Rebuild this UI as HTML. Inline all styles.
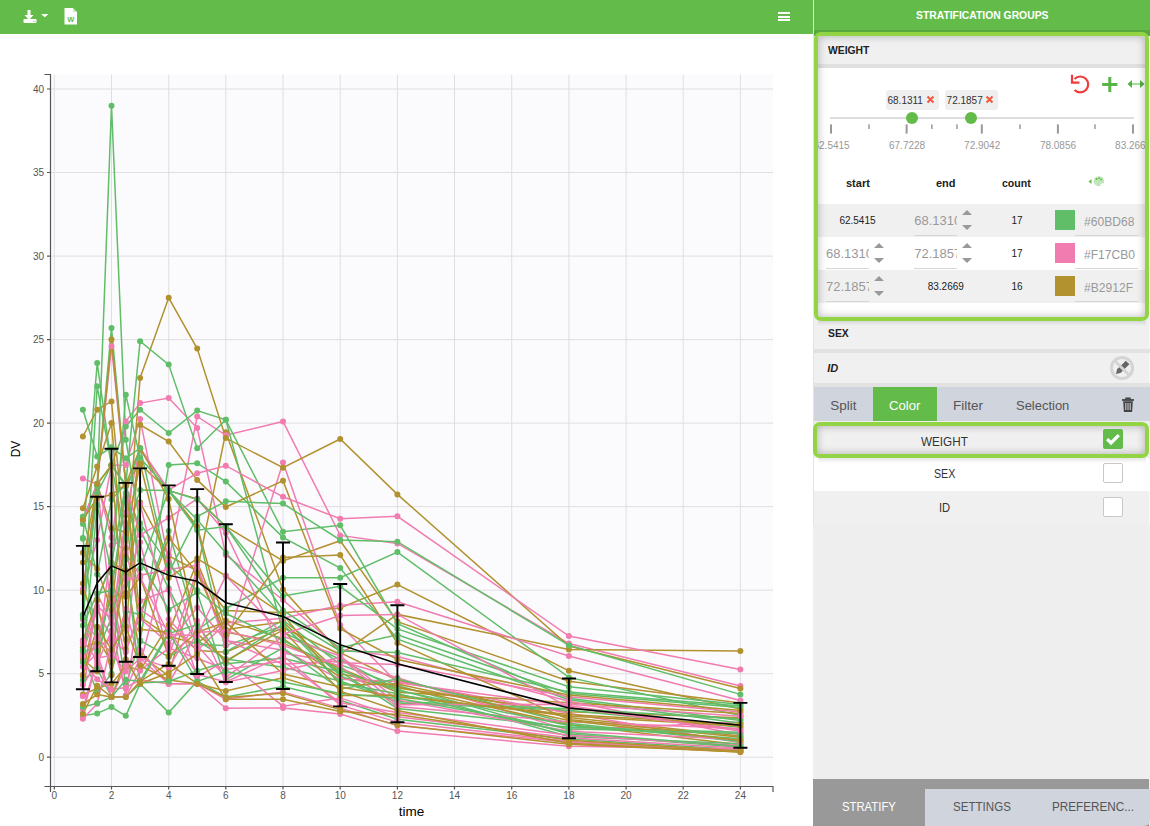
<!DOCTYPE html>
<html><head><meta charset="utf-8">
<style>
*{box-sizing:border-box;margin:0;padding:0}
html,body{width:1150px;height:826px;overflow:hidden;background:#fff;font-family:"Liberation Sans",sans-serif;position:relative}
.abs{position:absolute}
#lhead{left:0;top:0;width:813px;height:34px;background:#63bc49}
#vdiv{left:813px;top:0;width:1px;height:525px;background:#e2e2e8}
#rpanel{left:813px;top:0;width:337px;height:826px;background:#eeeeee}
#rhead{left:814px;top:0;width:336px;height:36px;background:linear-gradient(#63bc49 0,#63bc49 29.6px,#57a93f 30.4px,#57a93f 36px)}
.t{position:absolute;white-space:nowrap;line-height:1;display:inline-block}
.b{font-weight:bold}
.hl{position:absolute;border:4px solid #92d444;border-radius:7px;overflow:hidden}
.row{position:absolute;left:814px;width:336px}
.cb{position:absolute;width:20px;height:20px;border:1.5px solid #c8c8c8;border-radius:2px;background:#fff}
.spin{position:absolute;width:12px;height:22px}
.inp{position:absolute;height:27px;border-bottom:1px solid #d6d6d6;overflow:hidden;color:#999;font-size:13px}
</style></head><body>
<div id="lhead" class="abs">
 <svg class="abs" style="left:22px;top:8px" width="30" height="18" viewBox="0 0 30 18">
  <path d="M5.5 2h3v5h3l-4.5 5l-4.5 -5h3z" fill="#fff"/>
  <rect x="1.5" y="11" width="13" height="4" rx="0.8" fill="#fff"/>
  <rect x="11" y="12.8" width="1" height="0.8" fill="#63bc49"/><rect x="12.6" y="12.8" width="1" height="0.8" fill="#63bc49"/>
  <path d="M19 6h7.5l-3.75 3.2z" fill="#fff"/>
 </svg>
 <svg class="abs" style="left:64px;top:7px" width="14" height="18" viewBox="0 0 14 18">
  <path d="M0.5 1h8.5l4 4v12.5h-12.5z" fill="#fff"/>
  <path d="M9 1v4h4" fill="#63bc49" opacity=".35"/>
  <text x="6.8" y="15" text-anchor="middle" font-size="7.5" font-family="Liberation Sans,sans-serif" fill="#63bc49" font-weight="bold">W</text>
 </svg>
 <div class="abs" style="left:778px;top:12px;width:12px;height:2px;background:#fff"></div>
 <div class="abs" style="left:778px;top:15.7px;width:12px;height:2px;background:#fff"></div>
 <div class="abs" style="left:778px;top:19.4px;width:12px;height:2px;background:#fff"></div>
</div>
<svg width="813" height="792" viewBox="0 34 813 792" style="position:absolute;left:0;top:34px">
<rect x="51" y="74.5" width="722" height="712" fill="#fbfbfd"/>
<path d="M54.3 74.5V786 M111.5 74.5V786 M168.7 74.5V786 M225.8 74.5V786 M283.0 74.5V786 M340.2 74.5V786 M397.4 74.5V786 M454.5 74.5V786 M511.7 74.5V786 M568.9 74.5V786 M626.1 74.5V786 M683.2 74.5V786 M740.4 74.5V786 M51 757.2H773 M51 673.7H773 M51 590.2H773 M51 506.6H773 M51 423.1H773 M51 339.6H773 M51 256.1H773 M51 172.5H773 M51 89.0H773" stroke="#dfdfe1" stroke-width="1" fill="none"/>
<polyline points="82.9,647.4 97.2,642.4 111.5,596.3 125.8,592.7 140.1,502.4 168.7,555.9 197.2,570.8 225.8,432.3 283.0,589.6 340.2,652.6 397.4,680.2 568.9,717.6 740.4,736.0" fill="none" stroke="#B2912F" stroke-width="1.5"/>
<polyline points="82.9,519.8 97.2,484.1 111.5,528.2 125.8,532.2 140.1,464.4 168.7,490.6 197.2,498.8 225.8,526.5 283.0,560.9 340.2,540.7 397.4,621.6 568.9,681.2 740.4,702.9" fill="none" stroke="#B2912F" stroke-width="1.5"/>
<polyline points="82.9,590.8 97.2,540.0 111.5,465.2 125.8,464.9 140.1,418.9 168.7,561.4 197.2,416.4 225.8,435.3 283.0,421.4 340.2,535.4 397.4,543.4 568.9,643.6 740.4,685.9" fill="none" stroke="#F17CB0" stroke-width="1.5"/>
<polyline points="82.9,694.6 97.2,688.2 111.5,683.9 125.8,666.2 140.1,670.3 168.7,624.7 197.2,650.6 225.8,652.3 283.0,627.9 340.2,654.3 397.4,614.4 568.9,649.5 740.4,651.1" fill="none" stroke="#B2912F" stroke-width="1.5"/>
<polyline points="82.9,524.0 97.2,484.1 111.5,327.9 125.8,484.4 140.1,568.4 168.7,490.6 197.2,527.7 225.8,651.8 283.0,620.2 340.2,664.7 397.4,685.4 568.9,734.0 740.4,747.3" fill="none" stroke="#60BD68" stroke-width="1.5"/>
<polyline points="82.9,674.8 97.2,600.3 111.5,562.8 125.8,570.8 140.1,655.1 168.7,675.8 197.2,573.9 225.8,610.5 283.0,612.7 340.2,607.9 397.4,584.6 568.9,670.8 740.4,708.9" fill="none" stroke="#B2912F" stroke-width="1.5"/>
<polyline points="82.9,654.3 97.2,692.6 111.5,673.5 125.8,611.2 140.1,614.5 168.7,531.0 197.2,630.6 225.8,608.5 283.0,577.8 340.2,577.8 397.4,552.1 568.9,677.4 740.4,715.4" fill="none" stroke="#60BD68" stroke-width="1.5"/>
<polyline points="82.9,659.3 97.2,671.5 111.5,572.3 125.8,649.1 140.1,616.9 168.7,636.6 197.2,643.4 225.8,620.4 283.0,638.6 340.2,677.2 397.4,688.0 568.9,711.8 740.4,717.8" fill="none" stroke="#B2912F" stroke-width="1.5"/>
<polyline points="82.9,519.8 97.2,484.1 111.5,465.2 125.8,426.4 140.1,409.7 168.7,433.1 197.2,410.6 225.8,419.8 283.0,531.7 340.2,525.3 397.4,623.6 568.9,698.2 740.4,720.6" fill="none" stroke="#60BD68" stroke-width="1.5"/>
<polyline points="82.9,538.7 97.2,363.0 111.5,465.2 125.8,486.7 140.1,529.7 168.7,588.6 197.2,644.4 225.8,645.6 283.0,625.9 340.2,675.3 397.4,703.1 568.9,710.3 740.4,727.3" fill="none" stroke="#60BD68" stroke-width="1.5"/>
<polyline points="82.9,652.1 97.2,610.5 111.5,637.4 125.8,577.8 140.1,542.2 168.7,657.0 197.2,569.4 225.8,640.4 283.0,650.3 340.2,679.2 397.4,681.4 568.9,713.3 740.4,742.7" fill="none" stroke="#F17CB0" stroke-width="1.5"/>
<polyline points="82.9,478.6 97.2,484.1 111.5,613.7 125.8,547.4 140.1,618.5 168.7,643.4 197.2,607.4 225.8,640.3 283.0,664.2 340.2,661.1 397.4,677.7 568.9,730.1 740.4,722.0" fill="none" stroke="#F17CB0" stroke-width="1.5"/>
<polyline points="82.9,650.3 97.2,599.2 111.5,563.6 125.8,484.4 140.1,641.4 168.7,464.9 197.2,463.2 225.8,481.6 283.0,537.4 340.2,568.1 397.4,639.1 568.9,699.7 740.4,723.3" fill="none" stroke="#60BD68" stroke-width="1.5"/>
<polyline points="82.9,640.6 97.2,600.3 111.5,675.2 125.8,515.3 140.1,629.2 168.7,632.4 197.2,561.9 225.8,632.1 283.0,643.1 340.2,668.2 397.4,692.2 568.9,702.7 740.4,713.4" fill="none" stroke="#B2912F" stroke-width="1.5"/>
<polyline points="82.9,436.5 97.2,409.7 111.5,401.4 125.8,548.9 140.1,449.3 168.7,490.6 197.2,526.3 225.8,629.4 283.0,622.1 340.2,673.5 397.4,686.7 568.9,724.6 740.4,744.7" fill="none" stroke="#B2912F" stroke-width="1.5"/>
<polyline points="82.9,589.0 97.2,484.1 111.5,537.5 125.8,553.1 140.1,575.3 168.7,569.4 197.2,565.3 225.8,645.1 283.0,462.5 340.2,625.2 397.4,682.7 568.9,705.7 740.4,729.8" fill="none" stroke="#F17CB0" stroke-width="1.5"/>
<polyline points="82.9,640.4 97.2,660.3 111.5,545.4 125.8,421.4 140.1,403.1 168.7,398.0 197.2,428.1 225.8,554.9 283.0,600.0 340.2,649.5 397.4,656.5 568.9,701.2 740.4,734.8" fill="none" stroke="#F17CB0" stroke-width="1.5"/>
<polyline points="82.9,583.6 97.2,637.9 111.5,662.3 125.8,556.7 140.1,378.0 168.7,297.8 197.2,348.6 225.8,438.1 283.0,467.7 340.2,439.0 397.4,494.4 568.9,646.1 740.4,688.5" fill="none" stroke="#B2912F" stroke-width="1.5"/>
<polyline points="82.9,619.4 97.2,638.4 111.5,593.0 125.8,661.3 140.1,504.0 168.7,619.2 197.2,650.5 225.8,623.1 283.0,618.2 340.2,605.2 397.4,601.7 568.9,656.0 740.4,700.4" fill="none" stroke="#F17CB0" stroke-width="1.5"/>
<polyline points="82.9,519.8 97.2,484.1 111.5,346.3 125.8,484.4 140.1,535.2 168.7,517.8 197.2,498.8 225.8,533.0 283.0,653.0 340.2,662.8 397.4,664.5 568.9,696.7 740.4,711.9" fill="none" stroke="#F17CB0" stroke-width="1.5"/>
<polyline points="82.9,614.4 97.2,492.9 111.5,465.2 125.8,484.4 140.1,341.2 168.7,364.6 197.2,448.2 225.8,419.8 283.0,632.1 340.2,659.5 397.4,689.4 568.9,736.5 740.4,743.7" fill="none" stroke="#60BD68" stroke-width="1.5"/>
<polyline points="82.9,651.5 97.2,647.6 111.5,592.7 125.8,685.4 140.1,640.4 168.7,657.0 197.2,640.3 225.8,659.0 283.0,667.2 340.2,681.0 397.4,701.4 568.9,708.8 740.4,719.1" fill="none" stroke="#60BD68" stroke-width="1.5"/>
<polyline points="82.9,680.2 97.2,668.7 111.5,697.1 125.8,697.1 140.1,683.7 168.7,712.6 197.2,681.2 225.8,697.1 283.0,686.5 340.2,700.2 397.4,719.3 568.9,739.0 740.4,749.7" fill="none" stroke="#60BD68" stroke-width="1.5"/>
<polyline points="82.9,696.2 97.2,594.0 111.5,623.4 125.8,695.2 140.1,601.0 168.7,589.8 197.2,676.8 225.8,660.5 283.0,706.2 340.2,697.9 397.4,716.8 568.9,737.7 740.4,748.2" fill="none" stroke="#F17CB0" stroke-width="1.5"/>
<polyline points="82.9,516.6 97.2,574.3 111.5,499.6 125.8,484.4 140.1,560.7 168.7,609.7 197.2,592.3 225.8,679.7 283.0,647.9 340.2,689.0 397.4,678.9 568.9,723.3 740.4,741.5" fill="none" stroke="#60BD68" stroke-width="1.5"/>
<polyline points="82.9,715.8 97.2,713.4 111.5,707.1 125.8,715.8 140.1,683.7 168.7,633.6 197.2,624.6 225.8,663.8 283.0,658.3 340.2,671.7 397.4,708.4 568.9,727.3 740.4,732.3" fill="none" stroke="#60BD68" stroke-width="1.5"/>
<polyline points="82.9,617.9 97.2,386.3 111.5,465.2 125.8,538.4 140.1,489.9 168.7,490.6 197.2,499.6 225.8,526.5 283.0,610.4 340.2,647.8 397.4,634.8 568.9,693.6 740.4,707.4" fill="none" stroke="#60BD68" stroke-width="1.5"/>
<polyline points="82.9,709.3 97.2,657.8 111.5,655.5 125.8,608.9 140.1,664.5 168.7,554.4 197.2,645.4 225.8,677.2 283.0,636.4 340.2,656.0 397.4,699.9 568.9,731.3 740.4,739.5" fill="none" stroke="#F17CB0" stroke-width="1.5"/>
<polyline points="82.9,508.3 97.2,466.5 111.5,423.1 125.8,596.7 140.1,577.3 168.7,656.1 197.2,632.2 225.8,622.1 283.0,674.0 340.2,687.0 397.4,696.7 568.9,714.6 740.4,724.6" fill="none" stroke="#B2912F" stroke-width="1.5"/>
<polyline points="82.9,562.4 97.2,484.1 111.5,465.2 125.8,639.3 140.1,424.8 168.7,441.5 197.2,479.9 225.8,507.0 283.0,480.7 340.2,628.6 397.4,659.5 568.9,695.1 740.4,710.4" fill="none" stroke="#B2912F" stroke-width="1.5"/>
<polyline points="82.9,666.8 97.2,653.5 111.5,697.1 125.8,696.6 140.1,670.5 168.7,648.1 197.2,658.3 225.8,669.5 283.0,661.1 340.2,702.7 397.4,712.4 568.9,735.3 740.4,745.5" fill="none" stroke="#F17CB0" stroke-width="1.5"/>
<polyline points="82.9,718.8 97.2,703.7 111.5,641.8 125.8,688.7 140.1,658.3 168.7,683.7 197.2,632.2 225.8,630.9 283.0,645.4 340.2,666.3 397.4,706.6 568.9,721.8 740.4,728.6" fill="none" stroke="#F17CB0" stroke-width="1.5"/>
<polyline points="82.9,713.8 97.2,659.3 111.5,697.1 125.8,665.8 140.1,650.3 168.7,683.7 197.2,683.7 225.8,699.2 283.0,691.9 340.2,708.1 397.4,725.6 568.9,742.3 740.4,750.5" fill="none" stroke="#F17CB0" stroke-width="1.5"/>
<polyline points="82.9,409.7 97.2,456.5 111.5,447.3 125.8,458.2 140.1,448.2 168.7,490.6 197.2,530.3 225.8,526.5 283.0,596.0 340.2,586.3 397.4,628.9 568.9,686.7 740.4,704.4" fill="none" stroke="#60BD68" stroke-width="1.5"/>
<polyline points="82.9,684.7 97.2,663.7 111.5,630.4 125.8,512.8 140.1,448.2 168.7,489.9 197.2,473.2 225.8,465.7 283.0,496.8 340.2,518.8 397.4,516.3 568.9,636.1 740.4,669.5" fill="none" stroke="#F17CB0" stroke-width="1.5"/>
<polyline points="82.9,662.0 97.2,679.2 111.5,689.5 125.8,687.5 140.1,680.0 168.7,683.7 197.2,683.7 225.8,708.3 283.0,707.9 340.2,714.1 397.4,731.1 568.9,746.3 740.4,749.0" fill="none" stroke="#F17CB0" stroke-width="1.5"/>
<polyline points="82.9,552.7 97.2,569.1 111.5,609.9 125.8,484.4 140.1,616.5 168.7,537.9 197.2,573.1 225.8,635.1 283.0,557.6 340.2,555.1 397.4,642.9 568.9,719.6 740.4,737.2" fill="none" stroke="#B2912F" stroke-width="1.5"/>
<polyline points="82.9,656.1 97.2,647.4 111.5,638.4 125.8,652.1 140.1,609.4 168.7,629.2 197.2,674.3 225.8,682.0 283.0,655.6 340.2,705.2 397.4,722.1 568.9,741.3 740.4,751.7" fill="none" stroke="#F17CB0" stroke-width="1.5"/>
<polyline points="82.9,615.2 97.2,486.6 111.5,105.7 125.8,439.8 140.1,523.3 168.7,565.1 197.2,590.2 225.8,613.5 283.0,640.3 340.2,670.3 397.4,690.4 568.9,725.5 740.4,738.8" fill="none" stroke="#60BD68" stroke-width="1.5"/>
<polyline points="82.9,675.2 97.2,636.9 111.5,653.6 125.8,671.5 140.1,658.3 168.7,667.7 197.2,620.7 225.8,682.2 283.0,670.5 340.2,657.6 397.4,704.7 568.9,704.2 740.4,716.3" fill="none" stroke="#F17CB0" stroke-width="1.5"/>
<polyline points="82.9,592.5 97.2,484.1 111.5,339.6 125.8,484.4 140.1,463.2 168.7,577.8 197.2,558.6 225.8,575.8 283.0,614.5 340.2,685.0 397.4,684.0 568.9,720.4 740.4,740.5" fill="none" stroke="#B2912F" stroke-width="1.5"/>
<polyline points="82.9,675.7 97.2,626.7 111.5,649.6 125.8,626.6 140.1,665.7 168.7,679.9 197.2,683.7 225.8,690.9 283.0,677.7 340.2,695.6 397.4,695.2 568.9,716.1 740.4,726.0" fill="none" stroke="#B2912F" stroke-width="1.5"/>
<polyline points="82.9,538.0 97.2,651.1 111.5,618.0 125.8,559.6 140.1,683.0 168.7,681.4 197.2,670.7 225.8,662.0 283.0,624.1 340.2,683.0 397.4,693.7 568.9,732.6 740.4,746.5" fill="none" stroke="#60BD68" stroke-width="1.5"/>
<polyline points="82.9,707.1 97.2,703.2 111.5,697.1 125.8,679.7 140.1,681.2 168.7,631.9 197.2,681.4 225.8,671.5 283.0,681.9 340.2,693.4 397.4,698.2 568.9,728.8 740.4,733.6" fill="none" stroke="#60BD68" stroke-width="1.5"/>
<polyline points="82.9,519.8 97.2,497.9 111.5,494.8 125.8,484.4 140.1,448.2 168.7,498.9 197.2,633.4 225.8,660.6 283.0,630.1 340.2,691.2 397.4,710.4 568.9,743.3 740.4,752.0" fill="none" stroke="#B2912F" stroke-width="1.5"/>
<polyline points="82.9,643.8 97.2,606.0 111.5,618.9 125.8,579.8 140.1,577.1 168.7,634.3 197.2,635.8 225.8,575.8 283.0,634.3 340.2,615.5 397.4,614.4 568.9,707.3 740.4,731.1" fill="none" stroke="#F17CB0" stroke-width="1.5"/>
<polyline points="82.9,662.0 97.2,505.3 111.5,573.1 125.8,394.7 140.1,457.8 168.7,490.6 197.2,519.8 225.8,552.7 283.0,616.4 340.2,651.0 397.4,652.5 568.9,692.1 740.4,705.9" fill="none" stroke="#60BD68" stroke-width="1.5"/>
<polyline points="82.9,704.1 97.2,694.6 111.5,697.1 125.8,659.3 140.1,683.7 168.7,672.8 197.2,654.0 225.8,699.2 283.0,699.2 340.2,711.4 397.4,714.4 568.9,740.2 740.4,751.0" fill="none" stroke="#B2912F" stroke-width="1.5"/>
<polyline points="82.9,713.8 97.2,685.7 111.5,697.1 125.8,697.1 140.1,681.4 168.7,663.7 197.2,683.7 225.8,697.4 283.0,693.2 340.2,709.6 397.4,725.1 568.9,744.3 740.4,752.0" fill="none" stroke="#B2912F" stroke-width="1.5"/>
<polyline points="82.9,625.6 97.2,593.5 111.5,590.3 125.8,492.9 140.1,448.2 168.7,572.8 197.2,516.6 225.8,501.3 283.0,503.5 340.2,540.0 397.4,541.7 568.9,645.3 740.4,694.4" fill="none" stroke="#60BD68" stroke-width="1.5"/>
<g fill="#B2912F"><circle cx="82.9" cy="647.4" r="3"/><circle cx="97.2" cy="642.4" r="3"/><circle cx="111.5" cy="596.3" r="3"/><circle cx="125.8" cy="592.7" r="3"/><circle cx="140.1" cy="502.4" r="3"/><circle cx="168.7" cy="555.9" r="3"/><circle cx="197.2" cy="570.8" r="3"/><circle cx="225.8" cy="432.3" r="3"/><circle cx="283.0" cy="589.6" r="3"/><circle cx="340.2" cy="652.6" r="3"/><circle cx="397.4" cy="680.2" r="3"/><circle cx="568.9" cy="717.6" r="3"/><circle cx="740.4" cy="736.0" r="3"/></g>
<g fill="#B2912F"><circle cx="82.9" cy="519.8" r="3"/><circle cx="97.2" cy="484.1" r="3"/><circle cx="111.5" cy="528.2" r="3"/><circle cx="125.8" cy="532.2" r="3"/><circle cx="140.1" cy="464.4" r="3"/><circle cx="168.7" cy="490.6" r="3"/><circle cx="197.2" cy="498.8" r="3"/><circle cx="225.8" cy="526.5" r="3"/><circle cx="283.0" cy="560.9" r="3"/><circle cx="340.2" cy="540.7" r="3"/><circle cx="397.4" cy="621.6" r="3"/><circle cx="568.9" cy="681.2" r="3"/><circle cx="740.4" cy="702.9" r="3"/></g>
<g fill="#F17CB0"><circle cx="82.9" cy="590.8" r="3"/><circle cx="97.2" cy="540.0" r="3"/><circle cx="111.5" cy="465.2" r="3"/><circle cx="125.8" cy="464.9" r="3"/><circle cx="140.1" cy="418.9" r="3"/><circle cx="168.7" cy="561.4" r="3"/><circle cx="197.2" cy="416.4" r="3"/><circle cx="225.8" cy="435.3" r="3"/><circle cx="283.0" cy="421.4" r="3"/><circle cx="340.2" cy="535.4" r="3"/><circle cx="397.4" cy="543.4" r="3"/><circle cx="568.9" cy="643.6" r="3"/><circle cx="740.4" cy="685.9" r="3"/></g>
<g fill="#B2912F"><circle cx="82.9" cy="694.6" r="3"/><circle cx="97.2" cy="688.2" r="3"/><circle cx="111.5" cy="683.9" r="3"/><circle cx="125.8" cy="666.2" r="3"/><circle cx="140.1" cy="670.3" r="3"/><circle cx="168.7" cy="624.7" r="3"/><circle cx="197.2" cy="650.6" r="3"/><circle cx="225.8" cy="652.3" r="3"/><circle cx="283.0" cy="627.9" r="3"/><circle cx="340.2" cy="654.3" r="3"/><circle cx="397.4" cy="614.4" r="3"/><circle cx="568.9" cy="649.5" r="3"/><circle cx="740.4" cy="651.1" r="3"/></g>
<g fill="#60BD68"><circle cx="82.9" cy="524.0" r="3"/><circle cx="97.2" cy="484.1" r="3"/><circle cx="111.5" cy="327.9" r="3"/><circle cx="125.8" cy="484.4" r="3"/><circle cx="140.1" cy="568.4" r="3"/><circle cx="168.7" cy="490.6" r="3"/><circle cx="197.2" cy="527.7" r="3"/><circle cx="225.8" cy="651.8" r="3"/><circle cx="283.0" cy="620.2" r="3"/><circle cx="340.2" cy="664.7" r="3"/><circle cx="397.4" cy="685.4" r="3"/><circle cx="568.9" cy="734.0" r="3"/><circle cx="740.4" cy="747.3" r="3"/></g>
<g fill="#B2912F"><circle cx="82.9" cy="674.8" r="3"/><circle cx="97.2" cy="600.3" r="3"/><circle cx="111.5" cy="562.8" r="3"/><circle cx="125.8" cy="570.8" r="3"/><circle cx="140.1" cy="655.1" r="3"/><circle cx="168.7" cy="675.8" r="3"/><circle cx="197.2" cy="573.9" r="3"/><circle cx="225.8" cy="610.5" r="3"/><circle cx="283.0" cy="612.7" r="3"/><circle cx="340.2" cy="607.9" r="3"/><circle cx="397.4" cy="584.6" r="3"/><circle cx="568.9" cy="670.8" r="3"/><circle cx="740.4" cy="708.9" r="3"/></g>
<g fill="#60BD68"><circle cx="82.9" cy="654.3" r="3"/><circle cx="97.2" cy="692.6" r="3"/><circle cx="111.5" cy="673.5" r="3"/><circle cx="125.8" cy="611.2" r="3"/><circle cx="140.1" cy="614.5" r="3"/><circle cx="168.7" cy="531.0" r="3"/><circle cx="197.2" cy="630.6" r="3"/><circle cx="225.8" cy="608.5" r="3"/><circle cx="283.0" cy="577.8" r="3"/><circle cx="340.2" cy="577.8" r="3"/><circle cx="397.4" cy="552.1" r="3"/><circle cx="568.9" cy="677.4" r="3"/><circle cx="740.4" cy="715.4" r="3"/></g>
<g fill="#B2912F"><circle cx="82.9" cy="659.3" r="3"/><circle cx="97.2" cy="671.5" r="3"/><circle cx="111.5" cy="572.3" r="3"/><circle cx="125.8" cy="649.1" r="3"/><circle cx="140.1" cy="616.9" r="3"/><circle cx="168.7" cy="636.6" r="3"/><circle cx="197.2" cy="643.4" r="3"/><circle cx="225.8" cy="620.4" r="3"/><circle cx="283.0" cy="638.6" r="3"/><circle cx="340.2" cy="677.2" r="3"/><circle cx="397.4" cy="688.0" r="3"/><circle cx="568.9" cy="711.8" r="3"/><circle cx="740.4" cy="717.8" r="3"/></g>
<g fill="#60BD68"><circle cx="82.9" cy="519.8" r="3"/><circle cx="97.2" cy="484.1" r="3"/><circle cx="111.5" cy="465.2" r="3"/><circle cx="125.8" cy="426.4" r="3"/><circle cx="140.1" cy="409.7" r="3"/><circle cx="168.7" cy="433.1" r="3"/><circle cx="197.2" cy="410.6" r="3"/><circle cx="225.8" cy="419.8" r="3"/><circle cx="283.0" cy="531.7" r="3"/><circle cx="340.2" cy="525.3" r="3"/><circle cx="397.4" cy="623.6" r="3"/><circle cx="568.9" cy="698.2" r="3"/><circle cx="740.4" cy="720.6" r="3"/></g>
<g fill="#60BD68"><circle cx="82.9" cy="538.7" r="3"/><circle cx="97.2" cy="363.0" r="3"/><circle cx="111.5" cy="465.2" r="3"/><circle cx="125.8" cy="486.7" r="3"/><circle cx="140.1" cy="529.7" r="3"/><circle cx="168.7" cy="588.6" r="3"/><circle cx="197.2" cy="644.4" r="3"/><circle cx="225.8" cy="645.6" r="3"/><circle cx="283.0" cy="625.9" r="3"/><circle cx="340.2" cy="675.3" r="3"/><circle cx="397.4" cy="703.1" r="3"/><circle cx="568.9" cy="710.3" r="3"/><circle cx="740.4" cy="727.3" r="3"/></g>
<g fill="#F17CB0"><circle cx="82.9" cy="652.1" r="3"/><circle cx="97.2" cy="610.5" r="3"/><circle cx="111.5" cy="637.4" r="3"/><circle cx="125.8" cy="577.8" r="3"/><circle cx="140.1" cy="542.2" r="3"/><circle cx="168.7" cy="657.0" r="3"/><circle cx="197.2" cy="569.4" r="3"/><circle cx="225.8" cy="640.4" r="3"/><circle cx="283.0" cy="650.3" r="3"/><circle cx="340.2" cy="679.2" r="3"/><circle cx="397.4" cy="681.4" r="3"/><circle cx="568.9" cy="713.3" r="3"/><circle cx="740.4" cy="742.7" r="3"/></g>
<g fill="#F17CB0"><circle cx="82.9" cy="478.6" r="3"/><circle cx="97.2" cy="484.1" r="3"/><circle cx="111.5" cy="613.7" r="3"/><circle cx="125.8" cy="547.4" r="3"/><circle cx="140.1" cy="618.5" r="3"/><circle cx="168.7" cy="643.4" r="3"/><circle cx="197.2" cy="607.4" r="3"/><circle cx="225.8" cy="640.3" r="3"/><circle cx="283.0" cy="664.2" r="3"/><circle cx="340.2" cy="661.1" r="3"/><circle cx="397.4" cy="677.7" r="3"/><circle cx="568.9" cy="730.1" r="3"/><circle cx="740.4" cy="722.0" r="3"/></g>
<g fill="#60BD68"><circle cx="82.9" cy="650.3" r="3"/><circle cx="97.2" cy="599.2" r="3"/><circle cx="111.5" cy="563.6" r="3"/><circle cx="125.8" cy="484.4" r="3"/><circle cx="140.1" cy="641.4" r="3"/><circle cx="168.7" cy="464.9" r="3"/><circle cx="197.2" cy="463.2" r="3"/><circle cx="225.8" cy="481.6" r="3"/><circle cx="283.0" cy="537.4" r="3"/><circle cx="340.2" cy="568.1" r="3"/><circle cx="397.4" cy="639.1" r="3"/><circle cx="568.9" cy="699.7" r="3"/><circle cx="740.4" cy="723.3" r="3"/></g>
<g fill="#B2912F"><circle cx="82.9" cy="640.6" r="3"/><circle cx="97.2" cy="600.3" r="3"/><circle cx="111.5" cy="675.2" r="3"/><circle cx="125.8" cy="515.3" r="3"/><circle cx="140.1" cy="629.2" r="3"/><circle cx="168.7" cy="632.4" r="3"/><circle cx="197.2" cy="561.9" r="3"/><circle cx="225.8" cy="632.1" r="3"/><circle cx="283.0" cy="643.1" r="3"/><circle cx="340.2" cy="668.2" r="3"/><circle cx="397.4" cy="692.2" r="3"/><circle cx="568.9" cy="702.7" r="3"/><circle cx="740.4" cy="713.4" r="3"/></g>
<g fill="#B2912F"><circle cx="82.9" cy="436.5" r="3"/><circle cx="97.2" cy="409.7" r="3"/><circle cx="111.5" cy="401.4" r="3"/><circle cx="125.8" cy="548.9" r="3"/><circle cx="140.1" cy="449.3" r="3"/><circle cx="168.7" cy="490.6" r="3"/><circle cx="197.2" cy="526.3" r="3"/><circle cx="225.8" cy="629.4" r="3"/><circle cx="283.0" cy="622.1" r="3"/><circle cx="340.2" cy="673.5" r="3"/><circle cx="397.4" cy="686.7" r="3"/><circle cx="568.9" cy="724.6" r="3"/><circle cx="740.4" cy="744.7" r="3"/></g>
<g fill="#F17CB0"><circle cx="82.9" cy="589.0" r="3"/><circle cx="97.2" cy="484.1" r="3"/><circle cx="111.5" cy="537.5" r="3"/><circle cx="125.8" cy="553.1" r="3"/><circle cx="140.1" cy="575.3" r="3"/><circle cx="168.7" cy="569.4" r="3"/><circle cx="197.2" cy="565.3" r="3"/><circle cx="225.8" cy="645.1" r="3"/><circle cx="283.0" cy="462.5" r="3"/><circle cx="340.2" cy="625.2" r="3"/><circle cx="397.4" cy="682.7" r="3"/><circle cx="568.9" cy="705.7" r="3"/><circle cx="740.4" cy="729.8" r="3"/></g>
<g fill="#F17CB0"><circle cx="82.9" cy="640.4" r="3"/><circle cx="97.2" cy="660.3" r="3"/><circle cx="111.5" cy="545.4" r="3"/><circle cx="125.8" cy="421.4" r="3"/><circle cx="140.1" cy="403.1" r="3"/><circle cx="168.7" cy="398.0" r="3"/><circle cx="197.2" cy="428.1" r="3"/><circle cx="225.8" cy="554.9" r="3"/><circle cx="283.0" cy="600.0" r="3"/><circle cx="340.2" cy="649.5" r="3"/><circle cx="397.4" cy="656.5" r="3"/><circle cx="568.9" cy="701.2" r="3"/><circle cx="740.4" cy="734.8" r="3"/></g>
<g fill="#B2912F"><circle cx="82.9" cy="583.6" r="3"/><circle cx="97.2" cy="637.9" r="3"/><circle cx="111.5" cy="662.3" r="3"/><circle cx="125.8" cy="556.7" r="3"/><circle cx="140.1" cy="378.0" r="3"/><circle cx="168.7" cy="297.8" r="3"/><circle cx="197.2" cy="348.6" r="3"/><circle cx="225.8" cy="438.1" r="3"/><circle cx="283.0" cy="467.7" r="3"/><circle cx="340.2" cy="439.0" r="3"/><circle cx="397.4" cy="494.4" r="3"/><circle cx="568.9" cy="646.1" r="3"/><circle cx="740.4" cy="688.5" r="3"/></g>
<g fill="#F17CB0"><circle cx="82.9" cy="619.4" r="3"/><circle cx="97.2" cy="638.4" r="3"/><circle cx="111.5" cy="593.0" r="3"/><circle cx="125.8" cy="661.3" r="3"/><circle cx="140.1" cy="504.0" r="3"/><circle cx="168.7" cy="619.2" r="3"/><circle cx="197.2" cy="650.5" r="3"/><circle cx="225.8" cy="623.1" r="3"/><circle cx="283.0" cy="618.2" r="3"/><circle cx="340.2" cy="605.2" r="3"/><circle cx="397.4" cy="601.7" r="3"/><circle cx="568.9" cy="656.0" r="3"/><circle cx="740.4" cy="700.4" r="3"/></g>
<g fill="#F17CB0"><circle cx="82.9" cy="519.8" r="3"/><circle cx="97.2" cy="484.1" r="3"/><circle cx="111.5" cy="346.3" r="3"/><circle cx="125.8" cy="484.4" r="3"/><circle cx="140.1" cy="535.2" r="3"/><circle cx="168.7" cy="517.8" r="3"/><circle cx="197.2" cy="498.8" r="3"/><circle cx="225.8" cy="533.0" r="3"/><circle cx="283.0" cy="653.0" r="3"/><circle cx="340.2" cy="662.8" r="3"/><circle cx="397.4" cy="664.5" r="3"/><circle cx="568.9" cy="696.7" r="3"/><circle cx="740.4" cy="711.9" r="3"/></g>
<g fill="#60BD68"><circle cx="82.9" cy="614.4" r="3"/><circle cx="97.2" cy="492.9" r="3"/><circle cx="111.5" cy="465.2" r="3"/><circle cx="125.8" cy="484.4" r="3"/><circle cx="140.1" cy="341.2" r="3"/><circle cx="168.7" cy="364.6" r="3"/><circle cx="197.2" cy="448.2" r="3"/><circle cx="225.8" cy="419.8" r="3"/><circle cx="283.0" cy="632.1" r="3"/><circle cx="340.2" cy="659.5" r="3"/><circle cx="397.4" cy="689.4" r="3"/><circle cx="568.9" cy="736.5" r="3"/><circle cx="740.4" cy="743.7" r="3"/></g>
<g fill="#60BD68"><circle cx="82.9" cy="651.5" r="3"/><circle cx="97.2" cy="647.6" r="3"/><circle cx="111.5" cy="592.7" r="3"/><circle cx="125.8" cy="685.4" r="3"/><circle cx="140.1" cy="640.4" r="3"/><circle cx="168.7" cy="657.0" r="3"/><circle cx="197.2" cy="640.3" r="3"/><circle cx="225.8" cy="659.0" r="3"/><circle cx="283.0" cy="667.2" r="3"/><circle cx="340.2" cy="681.0" r="3"/><circle cx="397.4" cy="701.4" r="3"/><circle cx="568.9" cy="708.8" r="3"/><circle cx="740.4" cy="719.1" r="3"/></g>
<g fill="#60BD68"><circle cx="82.9" cy="680.2" r="3"/><circle cx="97.2" cy="668.7" r="3"/><circle cx="111.5" cy="697.1" r="3"/><circle cx="125.8" cy="697.1" r="3"/><circle cx="140.1" cy="683.7" r="3"/><circle cx="168.7" cy="712.6" r="3"/><circle cx="197.2" cy="681.2" r="3"/><circle cx="225.8" cy="697.1" r="3"/><circle cx="283.0" cy="686.5" r="3"/><circle cx="340.2" cy="700.2" r="3"/><circle cx="397.4" cy="719.3" r="3"/><circle cx="568.9" cy="739.0" r="3"/><circle cx="740.4" cy="749.7" r="3"/></g>
<g fill="#F17CB0"><circle cx="82.9" cy="696.2" r="3"/><circle cx="97.2" cy="594.0" r="3"/><circle cx="111.5" cy="623.4" r="3"/><circle cx="125.8" cy="695.2" r="3"/><circle cx="140.1" cy="601.0" r="3"/><circle cx="168.7" cy="589.8" r="3"/><circle cx="197.2" cy="676.8" r="3"/><circle cx="225.8" cy="660.5" r="3"/><circle cx="283.0" cy="706.2" r="3"/><circle cx="340.2" cy="697.9" r="3"/><circle cx="397.4" cy="716.8" r="3"/><circle cx="568.9" cy="737.7" r="3"/><circle cx="740.4" cy="748.2" r="3"/></g>
<g fill="#60BD68"><circle cx="82.9" cy="516.6" r="3"/><circle cx="97.2" cy="574.3" r="3"/><circle cx="111.5" cy="499.6" r="3"/><circle cx="125.8" cy="484.4" r="3"/><circle cx="140.1" cy="560.7" r="3"/><circle cx="168.7" cy="609.7" r="3"/><circle cx="197.2" cy="592.3" r="3"/><circle cx="225.8" cy="679.7" r="3"/><circle cx="283.0" cy="647.9" r="3"/><circle cx="340.2" cy="689.0" r="3"/><circle cx="397.4" cy="678.9" r="3"/><circle cx="568.9" cy="723.3" r="3"/><circle cx="740.4" cy="741.5" r="3"/></g>
<g fill="#60BD68"><circle cx="82.9" cy="715.8" r="3"/><circle cx="97.2" cy="713.4" r="3"/><circle cx="111.5" cy="707.1" r="3"/><circle cx="125.8" cy="715.8" r="3"/><circle cx="140.1" cy="683.7" r="3"/><circle cx="168.7" cy="633.6" r="3"/><circle cx="197.2" cy="624.6" r="3"/><circle cx="225.8" cy="663.8" r="3"/><circle cx="283.0" cy="658.3" r="3"/><circle cx="340.2" cy="671.7" r="3"/><circle cx="397.4" cy="708.4" r="3"/><circle cx="568.9" cy="727.3" r="3"/><circle cx="740.4" cy="732.3" r="3"/></g>
<g fill="#60BD68"><circle cx="82.9" cy="617.9" r="3"/><circle cx="97.2" cy="386.3" r="3"/><circle cx="111.5" cy="465.2" r="3"/><circle cx="125.8" cy="538.4" r="3"/><circle cx="140.1" cy="489.9" r="3"/><circle cx="168.7" cy="490.6" r="3"/><circle cx="197.2" cy="499.6" r="3"/><circle cx="225.8" cy="526.5" r="3"/><circle cx="283.0" cy="610.4" r="3"/><circle cx="340.2" cy="647.8" r="3"/><circle cx="397.4" cy="634.8" r="3"/><circle cx="568.9" cy="693.6" r="3"/><circle cx="740.4" cy="707.4" r="3"/></g>
<g fill="#F17CB0"><circle cx="82.9" cy="709.3" r="3"/><circle cx="97.2" cy="657.8" r="3"/><circle cx="111.5" cy="655.5" r="3"/><circle cx="125.8" cy="608.9" r="3"/><circle cx="140.1" cy="664.5" r="3"/><circle cx="168.7" cy="554.4" r="3"/><circle cx="197.2" cy="645.4" r="3"/><circle cx="225.8" cy="677.2" r="3"/><circle cx="283.0" cy="636.4" r="3"/><circle cx="340.2" cy="656.0" r="3"/><circle cx="397.4" cy="699.9" r="3"/><circle cx="568.9" cy="731.3" r="3"/><circle cx="740.4" cy="739.5" r="3"/></g>
<g fill="#B2912F"><circle cx="82.9" cy="508.3" r="3"/><circle cx="97.2" cy="466.5" r="3"/><circle cx="111.5" cy="423.1" r="3"/><circle cx="125.8" cy="596.7" r="3"/><circle cx="140.1" cy="577.3" r="3"/><circle cx="168.7" cy="656.1" r="3"/><circle cx="197.2" cy="632.2" r="3"/><circle cx="225.8" cy="622.1" r="3"/><circle cx="283.0" cy="674.0" r="3"/><circle cx="340.2" cy="687.0" r="3"/><circle cx="397.4" cy="696.7" r="3"/><circle cx="568.9" cy="714.6" r="3"/><circle cx="740.4" cy="724.6" r="3"/></g>
<g fill="#B2912F"><circle cx="82.9" cy="562.4" r="3"/><circle cx="97.2" cy="484.1" r="3"/><circle cx="111.5" cy="465.2" r="3"/><circle cx="125.8" cy="639.3" r="3"/><circle cx="140.1" cy="424.8" r="3"/><circle cx="168.7" cy="441.5" r="3"/><circle cx="197.2" cy="479.9" r="3"/><circle cx="225.8" cy="507.0" r="3"/><circle cx="283.0" cy="480.7" r="3"/><circle cx="340.2" cy="628.6" r="3"/><circle cx="397.4" cy="659.5" r="3"/><circle cx="568.9" cy="695.1" r="3"/><circle cx="740.4" cy="710.4" r="3"/></g>
<g fill="#F17CB0"><circle cx="82.9" cy="666.8" r="3"/><circle cx="97.2" cy="653.5" r="3"/><circle cx="111.5" cy="697.1" r="3"/><circle cx="125.8" cy="696.6" r="3"/><circle cx="140.1" cy="670.5" r="3"/><circle cx="168.7" cy="648.1" r="3"/><circle cx="197.2" cy="658.3" r="3"/><circle cx="225.8" cy="669.5" r="3"/><circle cx="283.0" cy="661.1" r="3"/><circle cx="340.2" cy="702.7" r="3"/><circle cx="397.4" cy="712.4" r="3"/><circle cx="568.9" cy="735.3" r="3"/><circle cx="740.4" cy="745.5" r="3"/></g>
<g fill="#F17CB0"><circle cx="82.9" cy="718.8" r="3"/><circle cx="97.2" cy="703.7" r="3"/><circle cx="111.5" cy="641.8" r="3"/><circle cx="125.8" cy="688.7" r="3"/><circle cx="140.1" cy="658.3" r="3"/><circle cx="168.7" cy="683.7" r="3"/><circle cx="197.2" cy="632.2" r="3"/><circle cx="225.8" cy="630.9" r="3"/><circle cx="283.0" cy="645.4" r="3"/><circle cx="340.2" cy="666.3" r="3"/><circle cx="397.4" cy="706.6" r="3"/><circle cx="568.9" cy="721.8" r="3"/><circle cx="740.4" cy="728.6" r="3"/></g>
<g fill="#F17CB0"><circle cx="82.9" cy="713.8" r="3"/><circle cx="97.2" cy="659.3" r="3"/><circle cx="111.5" cy="697.1" r="3"/><circle cx="125.8" cy="665.8" r="3"/><circle cx="140.1" cy="650.3" r="3"/><circle cx="168.7" cy="683.7" r="3"/><circle cx="197.2" cy="683.7" r="3"/><circle cx="225.8" cy="699.2" r="3"/><circle cx="283.0" cy="691.9" r="3"/><circle cx="340.2" cy="708.1" r="3"/><circle cx="397.4" cy="725.6" r="3"/><circle cx="568.9" cy="742.3" r="3"/><circle cx="740.4" cy="750.5" r="3"/></g>
<g fill="#60BD68"><circle cx="82.9" cy="409.7" r="3"/><circle cx="97.2" cy="456.5" r="3"/><circle cx="111.5" cy="447.3" r="3"/><circle cx="125.8" cy="458.2" r="3"/><circle cx="140.1" cy="448.2" r="3"/><circle cx="168.7" cy="490.6" r="3"/><circle cx="197.2" cy="530.3" r="3"/><circle cx="225.8" cy="526.5" r="3"/><circle cx="283.0" cy="596.0" r="3"/><circle cx="340.2" cy="586.3" r="3"/><circle cx="397.4" cy="628.9" r="3"/><circle cx="568.9" cy="686.7" r="3"/><circle cx="740.4" cy="704.4" r="3"/></g>
<g fill="#F17CB0"><circle cx="82.9" cy="684.7" r="3"/><circle cx="97.2" cy="663.7" r="3"/><circle cx="111.5" cy="630.4" r="3"/><circle cx="125.8" cy="512.8" r="3"/><circle cx="140.1" cy="448.2" r="3"/><circle cx="168.7" cy="489.9" r="3"/><circle cx="197.2" cy="473.2" r="3"/><circle cx="225.8" cy="465.7" r="3"/><circle cx="283.0" cy="496.8" r="3"/><circle cx="340.2" cy="518.8" r="3"/><circle cx="397.4" cy="516.3" r="3"/><circle cx="568.9" cy="636.1" r="3"/><circle cx="740.4" cy="669.5" r="3"/></g>
<g fill="#F17CB0"><circle cx="82.9" cy="662.0" r="3"/><circle cx="97.2" cy="679.2" r="3"/><circle cx="111.5" cy="689.5" r="3"/><circle cx="125.8" cy="687.5" r="3"/><circle cx="140.1" cy="680.0" r="3"/><circle cx="168.7" cy="683.7" r="3"/><circle cx="197.2" cy="683.7" r="3"/><circle cx="225.8" cy="708.3" r="3"/><circle cx="283.0" cy="707.9" r="3"/><circle cx="340.2" cy="714.1" r="3"/><circle cx="397.4" cy="731.1" r="3"/><circle cx="568.9" cy="746.3" r="3"/><circle cx="740.4" cy="749.0" r="3"/></g>
<g fill="#B2912F"><circle cx="82.9" cy="552.7" r="3"/><circle cx="97.2" cy="569.1" r="3"/><circle cx="111.5" cy="609.9" r="3"/><circle cx="125.8" cy="484.4" r="3"/><circle cx="140.1" cy="616.5" r="3"/><circle cx="168.7" cy="537.9" r="3"/><circle cx="197.2" cy="573.1" r="3"/><circle cx="225.8" cy="635.1" r="3"/><circle cx="283.0" cy="557.6" r="3"/><circle cx="340.2" cy="555.1" r="3"/><circle cx="397.4" cy="642.9" r="3"/><circle cx="568.9" cy="719.6" r="3"/><circle cx="740.4" cy="737.2" r="3"/></g>
<g fill="#F17CB0"><circle cx="82.9" cy="656.1" r="3"/><circle cx="97.2" cy="647.4" r="3"/><circle cx="111.5" cy="638.4" r="3"/><circle cx="125.8" cy="652.1" r="3"/><circle cx="140.1" cy="609.4" r="3"/><circle cx="168.7" cy="629.2" r="3"/><circle cx="197.2" cy="674.3" r="3"/><circle cx="225.8" cy="682.0" r="3"/><circle cx="283.0" cy="655.6" r="3"/><circle cx="340.2" cy="705.2" r="3"/><circle cx="397.4" cy="722.1" r="3"/><circle cx="568.9" cy="741.3" r="3"/><circle cx="740.4" cy="751.7" r="3"/></g>
<g fill="#60BD68"><circle cx="82.9" cy="615.2" r="3"/><circle cx="97.2" cy="486.6" r="3"/><circle cx="111.5" cy="105.7" r="3"/><circle cx="125.8" cy="439.8" r="3"/><circle cx="140.1" cy="523.3" r="3"/><circle cx="168.7" cy="565.1" r="3"/><circle cx="197.2" cy="590.2" r="3"/><circle cx="225.8" cy="613.5" r="3"/><circle cx="283.0" cy="640.3" r="3"/><circle cx="340.2" cy="670.3" r="3"/><circle cx="397.4" cy="690.4" r="3"/><circle cx="568.9" cy="725.5" r="3"/><circle cx="740.4" cy="738.8" r="3"/></g>
<g fill="#F17CB0"><circle cx="82.9" cy="675.2" r="3"/><circle cx="97.2" cy="636.9" r="3"/><circle cx="111.5" cy="653.6" r="3"/><circle cx="125.8" cy="671.5" r="3"/><circle cx="140.1" cy="658.3" r="3"/><circle cx="168.7" cy="667.7" r="3"/><circle cx="197.2" cy="620.7" r="3"/><circle cx="225.8" cy="682.2" r="3"/><circle cx="283.0" cy="670.5" r="3"/><circle cx="340.2" cy="657.6" r="3"/><circle cx="397.4" cy="704.7" r="3"/><circle cx="568.9" cy="704.2" r="3"/><circle cx="740.4" cy="716.3" r="3"/></g>
<g fill="#B2912F"><circle cx="82.9" cy="592.5" r="3"/><circle cx="97.2" cy="484.1" r="3"/><circle cx="111.5" cy="339.6" r="3"/><circle cx="125.8" cy="484.4" r="3"/><circle cx="140.1" cy="463.2" r="3"/><circle cx="168.7" cy="577.8" r="3"/><circle cx="197.2" cy="558.6" r="3"/><circle cx="225.8" cy="575.8" r="3"/><circle cx="283.0" cy="614.5" r="3"/><circle cx="340.2" cy="685.0" r="3"/><circle cx="397.4" cy="684.0" r="3"/><circle cx="568.9" cy="720.4" r="3"/><circle cx="740.4" cy="740.5" r="3"/></g>
<g fill="#B2912F"><circle cx="82.9" cy="675.7" r="3"/><circle cx="97.2" cy="626.7" r="3"/><circle cx="111.5" cy="649.6" r="3"/><circle cx="125.8" cy="626.6" r="3"/><circle cx="140.1" cy="665.7" r="3"/><circle cx="168.7" cy="679.9" r="3"/><circle cx="197.2" cy="683.7" r="3"/><circle cx="225.8" cy="690.9" r="3"/><circle cx="283.0" cy="677.7" r="3"/><circle cx="340.2" cy="695.6" r="3"/><circle cx="397.4" cy="695.2" r="3"/><circle cx="568.9" cy="716.1" r="3"/><circle cx="740.4" cy="726.0" r="3"/></g>
<g fill="#60BD68"><circle cx="82.9" cy="538.0" r="3"/><circle cx="97.2" cy="651.1" r="3"/><circle cx="111.5" cy="618.0" r="3"/><circle cx="125.8" cy="559.6" r="3"/><circle cx="140.1" cy="683.0" r="3"/><circle cx="168.7" cy="681.4" r="3"/><circle cx="197.2" cy="670.7" r="3"/><circle cx="225.8" cy="662.0" r="3"/><circle cx="283.0" cy="624.1" r="3"/><circle cx="340.2" cy="683.0" r="3"/><circle cx="397.4" cy="693.7" r="3"/><circle cx="568.9" cy="732.6" r="3"/><circle cx="740.4" cy="746.5" r="3"/></g>
<g fill="#60BD68"><circle cx="82.9" cy="707.1" r="3"/><circle cx="97.2" cy="703.2" r="3"/><circle cx="111.5" cy="697.1" r="3"/><circle cx="125.8" cy="679.7" r="3"/><circle cx="140.1" cy="681.2" r="3"/><circle cx="168.7" cy="631.9" r="3"/><circle cx="197.2" cy="681.4" r="3"/><circle cx="225.8" cy="671.5" r="3"/><circle cx="283.0" cy="681.9" r="3"/><circle cx="340.2" cy="693.4" r="3"/><circle cx="397.4" cy="698.2" r="3"/><circle cx="568.9" cy="728.8" r="3"/><circle cx="740.4" cy="733.6" r="3"/></g>
<g fill="#B2912F"><circle cx="82.9" cy="519.8" r="3"/><circle cx="97.2" cy="497.9" r="3"/><circle cx="111.5" cy="494.8" r="3"/><circle cx="125.8" cy="484.4" r="3"/><circle cx="140.1" cy="448.2" r="3"/><circle cx="168.7" cy="498.9" r="3"/><circle cx="197.2" cy="633.4" r="3"/><circle cx="225.8" cy="660.6" r="3"/><circle cx="283.0" cy="630.1" r="3"/><circle cx="340.2" cy="691.2" r="3"/><circle cx="397.4" cy="710.4" r="3"/><circle cx="568.9" cy="743.3" r="3"/><circle cx="740.4" cy="752.0" r="3"/></g>
<g fill="#F17CB0"><circle cx="82.9" cy="643.8" r="3"/><circle cx="97.2" cy="606.0" r="3"/><circle cx="111.5" cy="618.9" r="3"/><circle cx="125.8" cy="579.8" r="3"/><circle cx="140.1" cy="577.1" r="3"/><circle cx="168.7" cy="634.3" r="3"/><circle cx="197.2" cy="635.8" r="3"/><circle cx="225.8" cy="575.8" r="3"/><circle cx="283.0" cy="634.3" r="3"/><circle cx="340.2" cy="615.5" r="3"/><circle cx="397.4" cy="614.4" r="3"/><circle cx="568.9" cy="707.3" r="3"/><circle cx="740.4" cy="731.1" r="3"/></g>
<g fill="#60BD68"><circle cx="82.9" cy="662.0" r="3"/><circle cx="97.2" cy="505.3" r="3"/><circle cx="111.5" cy="573.1" r="3"/><circle cx="125.8" cy="394.7" r="3"/><circle cx="140.1" cy="457.8" r="3"/><circle cx="168.7" cy="490.6" r="3"/><circle cx="197.2" cy="519.8" r="3"/><circle cx="225.8" cy="552.7" r="3"/><circle cx="283.0" cy="616.4" r="3"/><circle cx="340.2" cy="651.0" r="3"/><circle cx="397.4" cy="652.5" r="3"/><circle cx="568.9" cy="692.1" r="3"/><circle cx="740.4" cy="705.9" r="3"/></g>
<g fill="#B2912F"><circle cx="82.9" cy="704.1" r="3"/><circle cx="97.2" cy="694.6" r="3"/><circle cx="111.5" cy="697.1" r="3"/><circle cx="125.8" cy="659.3" r="3"/><circle cx="140.1" cy="683.7" r="3"/><circle cx="168.7" cy="672.8" r="3"/><circle cx="197.2" cy="654.0" r="3"/><circle cx="225.8" cy="699.2" r="3"/><circle cx="283.0" cy="699.2" r="3"/><circle cx="340.2" cy="711.4" r="3"/><circle cx="397.4" cy="714.4" r="3"/><circle cx="568.9" cy="740.2" r="3"/><circle cx="740.4" cy="751.0" r="3"/></g>
<g fill="#B2912F"><circle cx="82.9" cy="713.8" r="3"/><circle cx="97.2" cy="685.7" r="3"/><circle cx="111.5" cy="697.1" r="3"/><circle cx="125.8" cy="697.1" r="3"/><circle cx="140.1" cy="681.4" r="3"/><circle cx="168.7" cy="663.7" r="3"/><circle cx="197.2" cy="683.7" r="3"/><circle cx="225.8" cy="697.4" r="3"/><circle cx="283.0" cy="693.2" r="3"/><circle cx="340.2" cy="709.6" r="3"/><circle cx="397.4" cy="725.1" r="3"/><circle cx="568.9" cy="744.3" r="3"/><circle cx="740.4" cy="752.0" r="3"/></g>
<g fill="#60BD68"><circle cx="82.9" cy="625.6" r="3"/><circle cx="97.2" cy="593.5" r="3"/><circle cx="111.5" cy="590.3" r="3"/><circle cx="125.8" cy="492.9" r="3"/><circle cx="140.1" cy="448.2" r="3"/><circle cx="168.7" cy="572.8" r="3"/><circle cx="197.2" cy="516.6" r="3"/><circle cx="225.8" cy="501.3" r="3"/><circle cx="283.0" cy="503.5" r="3"/><circle cx="340.2" cy="540.0" r="3"/><circle cx="397.4" cy="541.7" r="3"/><circle cx="568.9" cy="645.3" r="3"/><circle cx="740.4" cy="694.4" r="3"/></g>
<path d="M82.9 545.9V689.2M75.9 545.9h14M75.9 689.2h14M97.2 496.8V671.2M90.2 496.8h14M90.2 671.2h14M111.5 448.8V682.4M104.5 448.8h14M104.5 682.4h14M125.8 482.9V661.8M118.8 482.9h14M118.8 661.8h14M140.1 468.4V657.0M133.1 468.4h14M133.1 657.0h14M168.7 485.4V665.7M161.7 485.4h14M161.7 665.7h14M197.2 489.1V674.0M190.2 489.1h14M190.2 674.0h14M225.8 524.2V682.0M218.8 524.2h14M218.8 682.0h14M283.0 542.5V689.0M276.0 542.5h14M276.0 689.0h14M340.2 584.0V706.4M333.2 584.0h14M333.2 706.4h14M397.4 605.2V722.3M390.4 605.2h14M390.4 722.3h14M568.9 678.5V738.2M561.9 678.5h14M561.9 738.2h14M740.4 702.9V747.8M733.4 702.9h14M733.4 747.8h14" stroke="#000" stroke-width="1.9" fill="none"/>
<polyline points="82.9,616.9 97.2,583.0 111.5,565.9 125.8,571.9 140.1,562.9 168.7,575.4 197.2,581.3 225.8,602.7 283.0,616.4 340.2,644.6 397.4,663.8 568.9,708.1 740.4,725.3" fill="none" stroke="#000" stroke-width="1.5"/>
<path d="M44.5 74.5H50.5V786.5H44.5" stroke="#555" fill="none" stroke-width="1.2"/>
<path d="M50.5 792V786.5H773V792" stroke="#555" fill="none" stroke-width="1.2"/>
<path d="M47 757.2H50.5M47 673.7H50.5M47 590.2H50.5M47 506.6H50.5M47 423.1H50.5M47 339.6H50.5M47 256.1H50.5M47 172.5H50.5M47 89.0H50.5M54.3 786.5V789.5M111.5 786.5V789.5M168.7 786.5V789.5M225.8 786.5V789.5M283.0 786.5V789.5M340.2 786.5V789.5M397.4 786.5V789.5M454.5 786.5V789.5M511.7 786.5V789.5M568.9 786.5V789.5M626.1 786.5V789.5M683.2 786.5V789.5M740.4 786.5V789.5" stroke="#555" stroke-width="1.2" fill="none"/>
<g font-family="Liberation Sans, sans-serif" font-size="10" fill="#555"><text x="44" y="760.7" text-anchor="end">0</text><text x="44" y="677.2" text-anchor="end">5</text><text x="44" y="593.7" text-anchor="end">10</text><text x="44" y="510.1" text-anchor="end">15</text><text x="44" y="426.6" text-anchor="end">20</text><text x="44" y="343.1" text-anchor="end">25</text><text x="44" y="259.6" text-anchor="end">30</text><text x="44" y="176.0" text-anchor="end">35</text><text x="44" y="92.5" text-anchor="end">40</text><text x="54.3" y="799.2" text-anchor="middle">0</text><text x="111.5" y="799.2" text-anchor="middle">2</text><text x="168.7" y="799.2" text-anchor="middle">4</text><text x="225.8" y="799.2" text-anchor="middle">6</text><text x="283.0" y="799.2" text-anchor="middle">8</text><text x="340.2" y="799.2" text-anchor="middle">10</text><text x="397.4" y="799.2" text-anchor="middle">12</text><text x="454.5" y="799.2" text-anchor="middle">14</text><text x="511.7" y="799.2" text-anchor="middle">16</text><text x="568.9" y="799.2" text-anchor="middle">18</text><text x="626.1" y="799.2" text-anchor="middle">20</text><text x="683.2" y="799.2" text-anchor="middle">22</text><text x="740.4" y="799.2" text-anchor="middle">24</text></g>
<text x="411.5" y="815.9" text-anchor="middle" font-family="Liberation Sans, sans-serif" font-size="13.5" fill="#000">time</text>
<text transform="translate(19.8 449) rotate(-90)" text-anchor="middle" font-family="Liberation Sans, sans-serif" font-size="12" fill="#000">DV</text>
</svg>
<div id="rpanel" class="abs"></div>
<div id="vdiv" class="abs"></div>
<div id="rhead" class="abs"><span class="t b" style="left:101.6px;top:10px;color:#fff;font-size:11.5px;transform:scaleX(.9);transform-origin:0 0">STRATIFICATION GROUPS</span></div>

<!-- WEIGHT box -->
<div class="hl" style="left:813.5px;top:31.5px;width:335.5px;height:289.5px;background:#fff">
 <div class="abs" style="left:0;top:0;width:100%;height:28.5px;background:#f0f0f0"></div>
 <div class="abs" style="left:0;top:28.5px;width:100%;height:4px;background:#e0e0e0"></div>
 <div class="abs" style="left:0;top:0;width:100%;height:100%;box-shadow:inset 0 0 9px rgba(0,0,0,.28);border-radius:3px;pointer-events:none;z-index:5"></div>
</div>
<span class="t b" style="left:827.6px;top:45px;font-size:11px;color:#222;transform:scaleX(.94);transform-origin:0 0">WEIGHT</span>

<!-- slider -->
<div class="abs" style="left:830px;top:116.7px;width:304px;height:2px;background:#ddd"></div>
<svg class="abs" style="left:818px;top:120px" width="327" height="16">
 <g fill="#999">
  <rect x="12" y="4.4" width="2" height="9.2"/><rect x="87.6" y="4.4" width="2" height="9.2"/><rect x="162.8" y="4.4" width="2" height="9.2"/><rect x="238.9" y="4.4" width="2" height="9.2"/><rect x="314" y="4.4" width="2" height="9.2"/>
  <rect x="50.3" y="4.4" width="1.5" height="4.6"/><rect x="113.1" y="4.4" width="1.5" height="4.6"/><rect x="138.2" y="4.4" width="1.5" height="4.6"/><rect x="201.2" y="4.4" width="1.5" height="4.6"/><rect x="276.2" y="4.4" width="1.5" height="4.6"/>
 </g>
</svg>
<div class="abs" style="left:906px;top:111.7px;width:12px;height:12px;border-radius:50%;background:#63bc49"></div>
<div class="abs" style="left:965.4px;top:111.7px;width:12px;height:12px;border-radius:50%;background:#63bc49"></div>
<div class="abs" style="left:885.7px;top:90.4px;width:53.2px;height:20px;border-radius:3px;background:#efefef"></div>
<div class="abs" style="left:944.8px;top:90.4px;width:53.2px;height:20px;border-radius:3px;background:#efefef"></div>
<span class="t" style="left:887.5px;top:95.5px;font-size:10px;color:#333">68.1311</span>
<span class="t" style="left:946.6px;top:95.5px;font-size:10px;color:#333">72.1857</span>
<svg class="abs" style="left:926px;top:95px" width="9" height="9"><path d="M1.5 1.5l6 6M7.5 1.5l-6 6" stroke="#f2583e" stroke-width="2"/></svg>
<svg class="abs" style="left:985px;top:95px" width="9" height="9"><path d="M1.5 1.5l6 6M7.5 1.5l-6 6" stroke="#f2583e" stroke-width="2"/></svg>
<div class="abs" style="left:817.5px;top:137px;width:327.5px;height:14px;overflow:hidden">
 <span class="t" style="left:-4px;top:4px;font-size:10px;color:#999">62.5415</span>
 <span class="t" style="left:71.5px;top:4px;font-size:10px;color:#999">67.7228</span>
 <span class="t" style="left:146.6px;top:4px;font-size:10px;color:#999">72.9042</span>
 <span class="t" style="left:222.4px;top:4px;font-size:10px;color:#999">78.0856</span>
 <span class="t" style="left:297.6px;top:4px;font-size:10px;color:#999">83.2669</span>
</div>
<!-- undo / plus / arrows -->
<svg class="abs" style="left:1069px;top:73px" width="22" height="22" viewBox="0 0 22 22">
 <path d="M5.6 5.9 A7.9 7.9 0 1 1 5.6 16.9" fill="none" stroke="#f23a3a" stroke-width="2.2"/>
 <path d="M3 1.8 V9.6 H10.5" fill="none" stroke="#f23a3a" stroke-width="2.2"/>
</svg>
<svg class="abs" style="left:1101px;top:76px" width="18" height="18" viewBox="0 0 18 18">
 <path d="M8.8 1v15M1.2 8.5h15.2" stroke="#58b548" stroke-width="3"/>
</svg>
<svg class="abs" style="left:1127px;top:78px" width="18" height="12" viewBox="0 0 18 12">
 <path d="M4 6h12" stroke="#a8dca0" stroke-width="2"/>
 <path d="M0.5 6l4.5 -4v8z" fill="#4fb040"/>
 <path d="M17.5 6l-4.5 -4v8z" fill="#4fb040"/>
</svg>

<!-- table -->
<span class="t b" style="left:846px;top:178px;font-size:11px;color:#222">start</span>
<span class="t b" style="left:936px;top:178px;font-size:11px;color:#222">end</span>
<span class="t b" style="left:1002.2px;top:178px;font-size:11px;color:#222;transform:scaleX(.96);transform-origin:0 0">count</span>
<svg class="abs" style="left:1088px;top:174px" width="18" height="14" viewBox="0 0 18 14">
 <path d="M0.5 7.5l3 -2.6v5.2z" fill="#63bc49"/>
 <path d="M11 2.2a5 5 0 1 0 1.6 9.6c-1.4-1.8 1.8-2.6 3-2.4a5 5 0 0 0 -4.6 -7.2z" fill="#bfe5b9"/>
 <circle cx="8.6" cy="5" r=".9" fill="#63bc49"/><circle cx="11" cy="4.2" r=".9" fill="#63bc49"/><circle cx="13.2" cy="5.4" r=".9" fill="#63bc49"/>
</svg>
<div class="abs" style="left:817.5px;top:204.2px;width:327px;height:33px;background:#f0f0f0"></div>
<div class="abs" style="left:817.5px;top:270px;width:327px;height:32.5px;background:#f0f0f0"></div>

<span class="t" style="left:839.4px;top:215.8px;font-size:10px;color:#222">62.5415</span>
<span class="t" style="left:927.7px;top:282.3px;font-size:10px;color:#222">83.2669</span>
<span class="t" style="left:1011.5px;top:215.8px;font-size:10px;color:#222">17</span>
<span class="t" style="left:1011.5px;top:248.8px;font-size:10px;color:#222">17</span>
<span class="t" style="left:1011.5px;top:281.8px;font-size:10px;color:#222">16</span>

<div class="inp" style="left:914.3px;top:209.4px;width:43px"><span class="t" style="left:0;top:5px">68.1310</span></div>
<div class="inp" style="left:826px;top:242.4px;width:43px"><span class="t" style="left:0;top:5px">68.1310</span></div>
<div class="inp" style="left:914.3px;top:242.4px;width:43px"><span class="t" style="left:0;top:5px">72.1857</span></div>
<div class="inp" style="left:826px;top:275.4px;width:43px"><span class="t" style="left:0;top:5px">72.1857</span></div>
<svg class="abs" style="left:960.8px;top:209px" width="12" height="23"><path d="M1 6h10l-5-5z M1 16h10l-5 5z" fill="#999"/></svg>
<svg class="abs" style="left:872.9px;top:242px" width="12" height="23"><path d="M1 6h10l-5-5z M1 16h10l-5 5z" fill="#999"/></svg>
<svg class="abs" style="left:960.8px;top:242px" width="12" height="23"><path d="M1 6h10l-5-5z M1 16h10l-5 5z" fill="#999"/></svg>
<svg class="abs" style="left:872.9px;top:275px" width="12" height="23"><path d="M1 6h10l-5-5z M1 16h10l-5 5z" fill="#999"/></svg>

<div class="abs" style="left:1055.1px;top:210px;width:19.8px;height:19.7px;background:#60bd68"></div>
<div class="abs" style="left:1055.1px;top:243px;width:19.8px;height:19.7px;background:#f17cb0"></div>
<div class="abs" style="left:1055.1px;top:276px;width:19.8px;height:19.7px;background:#b2912f"></div>
<div class="inp" style="left:1075px;top:209.4px;width:63px"><span class="t" style="left:9px;top:6px;transform:scaleX(.93);transform-origin:0 0">#60BD68</span></div>
<div class="inp" style="left:1075px;top:242.4px;width:63px"><span class="t" style="left:9px;top:6px;transform:scaleX(.93);transform-origin:0 0">#F17CB0</span></div>
<div class="inp" style="left:1075px;top:275.4px;width:63px"><span class="t" style="left:9px;top:6px;transform:scaleX(.93);transform-origin:0 0">#B2912F</span></div>

<!-- SEX / ID group rows -->
<div class="row" style="top:321px;height:28px;background:#f0f0f0"></div>
<div class="row" style="top:349px;height:4px;background:#e2e2e2"></div>
<div class="row" style="top:353px;height:30px;background:#f0f0f0"></div>
<div class="row" style="top:383px;height:4px;background:#e2e2e2"></div>
<span class="t b" style="left:827.6px;top:328.3px;font-size:11px;color:#222;transform:scaleX(.94);transform-origin:0 0">SEX</span>
<span class="t b" style="left:827.3px;top:362.5px;font-size:11px;color:#222;font-style:italic">ID</span>
<svg class="abs" style="left:1108px;top:354px" width="28" height="28" viewBox="0 0 28 28">
 <circle cx="14" cy="14" r="10.6" fill="none" stroke="#d4d4d4" stroke-width="3"/>
 <path d="M11.2 16.8L19.6 8.4" stroke="#666" stroke-width="5"/>
 <path d="M8 20l1.2-5.4l4.2 4.2z" fill="#666"/>
 <path d="M7.2 7.2l13.6 13.6" stroke="#d4d4d4" stroke-width="3"/>
</svg>

<div class="abs" style="left:1148.5px;top:321px;width:1.5px;height:28px;background:#f8f8f8"></div>
<div class="abs" style="left:1148.5px;top:353px;width:1.5px;height:30px;background:#f8f8f8"></div>
<div class="abs" style="left:818px;top:321px;width:328px;height:5px;background:linear-gradient(rgba(0,0,0,.10),rgba(0,0,0,0))"></div>
<!-- tabs -->
<div class="row" style="top:387px;height:34px;background:#d0d4dd"></div>
<div class="abs" style="left:873px;top:387px;width:64px;height:34px;background:#63bc49"></div>
<span class="t" style="left:830.2px;top:399px;font-size:13.5px;color:#555">Split</span>
<span class="t" style="left:889.2px;top:399px;font-size:13.5px;color:#fff;transform:scaleX(.975);transform-origin:0 0">Color</span>
<span class="t" style="left:953.1px;top:399px;font-size:13.5px;color:#555">Filter</span>
<span class="t" style="left:1015.5px;top:399px;font-size:13.5px;color:#555;transform:scaleX(.96);transform-origin:0 0">Selection</span>
<svg class="abs" style="left:1121px;top:397px" width="14" height="16" viewBox="0 0 14 16">
 <path d="M1 3h12" stroke="#444" stroke-width="1.8"/>
 <path d="M5 3V1.3h4V3" stroke="#444" stroke-width="1.4" fill="none"/>
 <path d="M2.2 4.2h9.6l-0.7 10.8h-8.2z" fill="#444"/>
 <path d="M4.8 6v7M7 6v7M9.2 6v7" stroke="#d0d4dd" stroke-width="1"/>
</svg>

<!-- selection list -->
<div class="hl" style="left:813.3px;top:421.7px;width:336px;height:36.6px;background:#f0f0f0">
 <div class="abs" style="left:0;top:0;width:100%;height:100%;box-shadow:inset 0 0 8px rgba(0,0,0,.28);border-radius:3px"></div>
</div>
<div class="row" style="top:458.3px;height:32.7px;background:#fff"></div>
<div class="row" style="top:491px;height:34px;background:#f0f0f0"></div>
<span class="t" style="left:921.2px;top:434.5px;font-size:13px;color:#333;transform:scaleX(.9);transform-origin:0 0">WEIGHT</span>
<span class="t" style="left:933.9px;top:467px;font-size:13px;color:#333;transform:scaleX(.82);transform-origin:0 0">SEX</span>
<span class="t" style="left:939px;top:500.6px;font-size:13px;color:#333;transform:scaleX(.86);transform-origin:0 0">ID</span>
<div class="abs" style="left:1103.1px;top:429.1px;width:19.8px;height:19.8px;background:#63bc49;border-radius:2px"></div>
<svg class="abs" style="left:1103.1px;top:429.1px" width="20" height="20" viewBox="0 0 20 20"><path d="M4.2 10.2l3.8 3.8l7.8 -7.8" stroke="#fff" stroke-width="3.2" fill="none"/></svg>
<div class="cb" style="left:1103.3px;top:463px"></div>
<div class="cb" style="left:1103.3px;top:496.5px"></div>

<div class="abs" style="left:1148.5px;top:491px;width:1.5px;height:34px;background:#f8f8f8"></div>
<div class="abs" style="left:818px;top:458.3px;width:328px;height:5px;background:linear-gradient(rgba(0,0,0,.10),rgba(0,0,0,0))"></div>
<!-- bottom tabs -->
<div class="abs" style="left:813px;top:779px;width:336px;height:47px;background:#999"></div>
<div class="abs" style="left:925px;top:789px;width:225px;height:37px;background:#d0d4dd;border-bottom-right-radius:6px"></div>
<span class="t" style="left:842.4px;top:799.5px;font-size:13px;color:#fff;transform:scaleX(.87);transform-origin:0 0">STRATIFY</span>
<span class="t" style="left:952.6px;top:799.8px;font-size:13px;color:#555;transform:scaleX(.89);transform-origin:0 0">SETTINGS</span>
<span class="t" style="left:1052.4px;top:799.8px;font-size:13px;color:#555;transform:scaleX(.9);transform-origin:0 0">PREFERENC...</span>
</body></html>
